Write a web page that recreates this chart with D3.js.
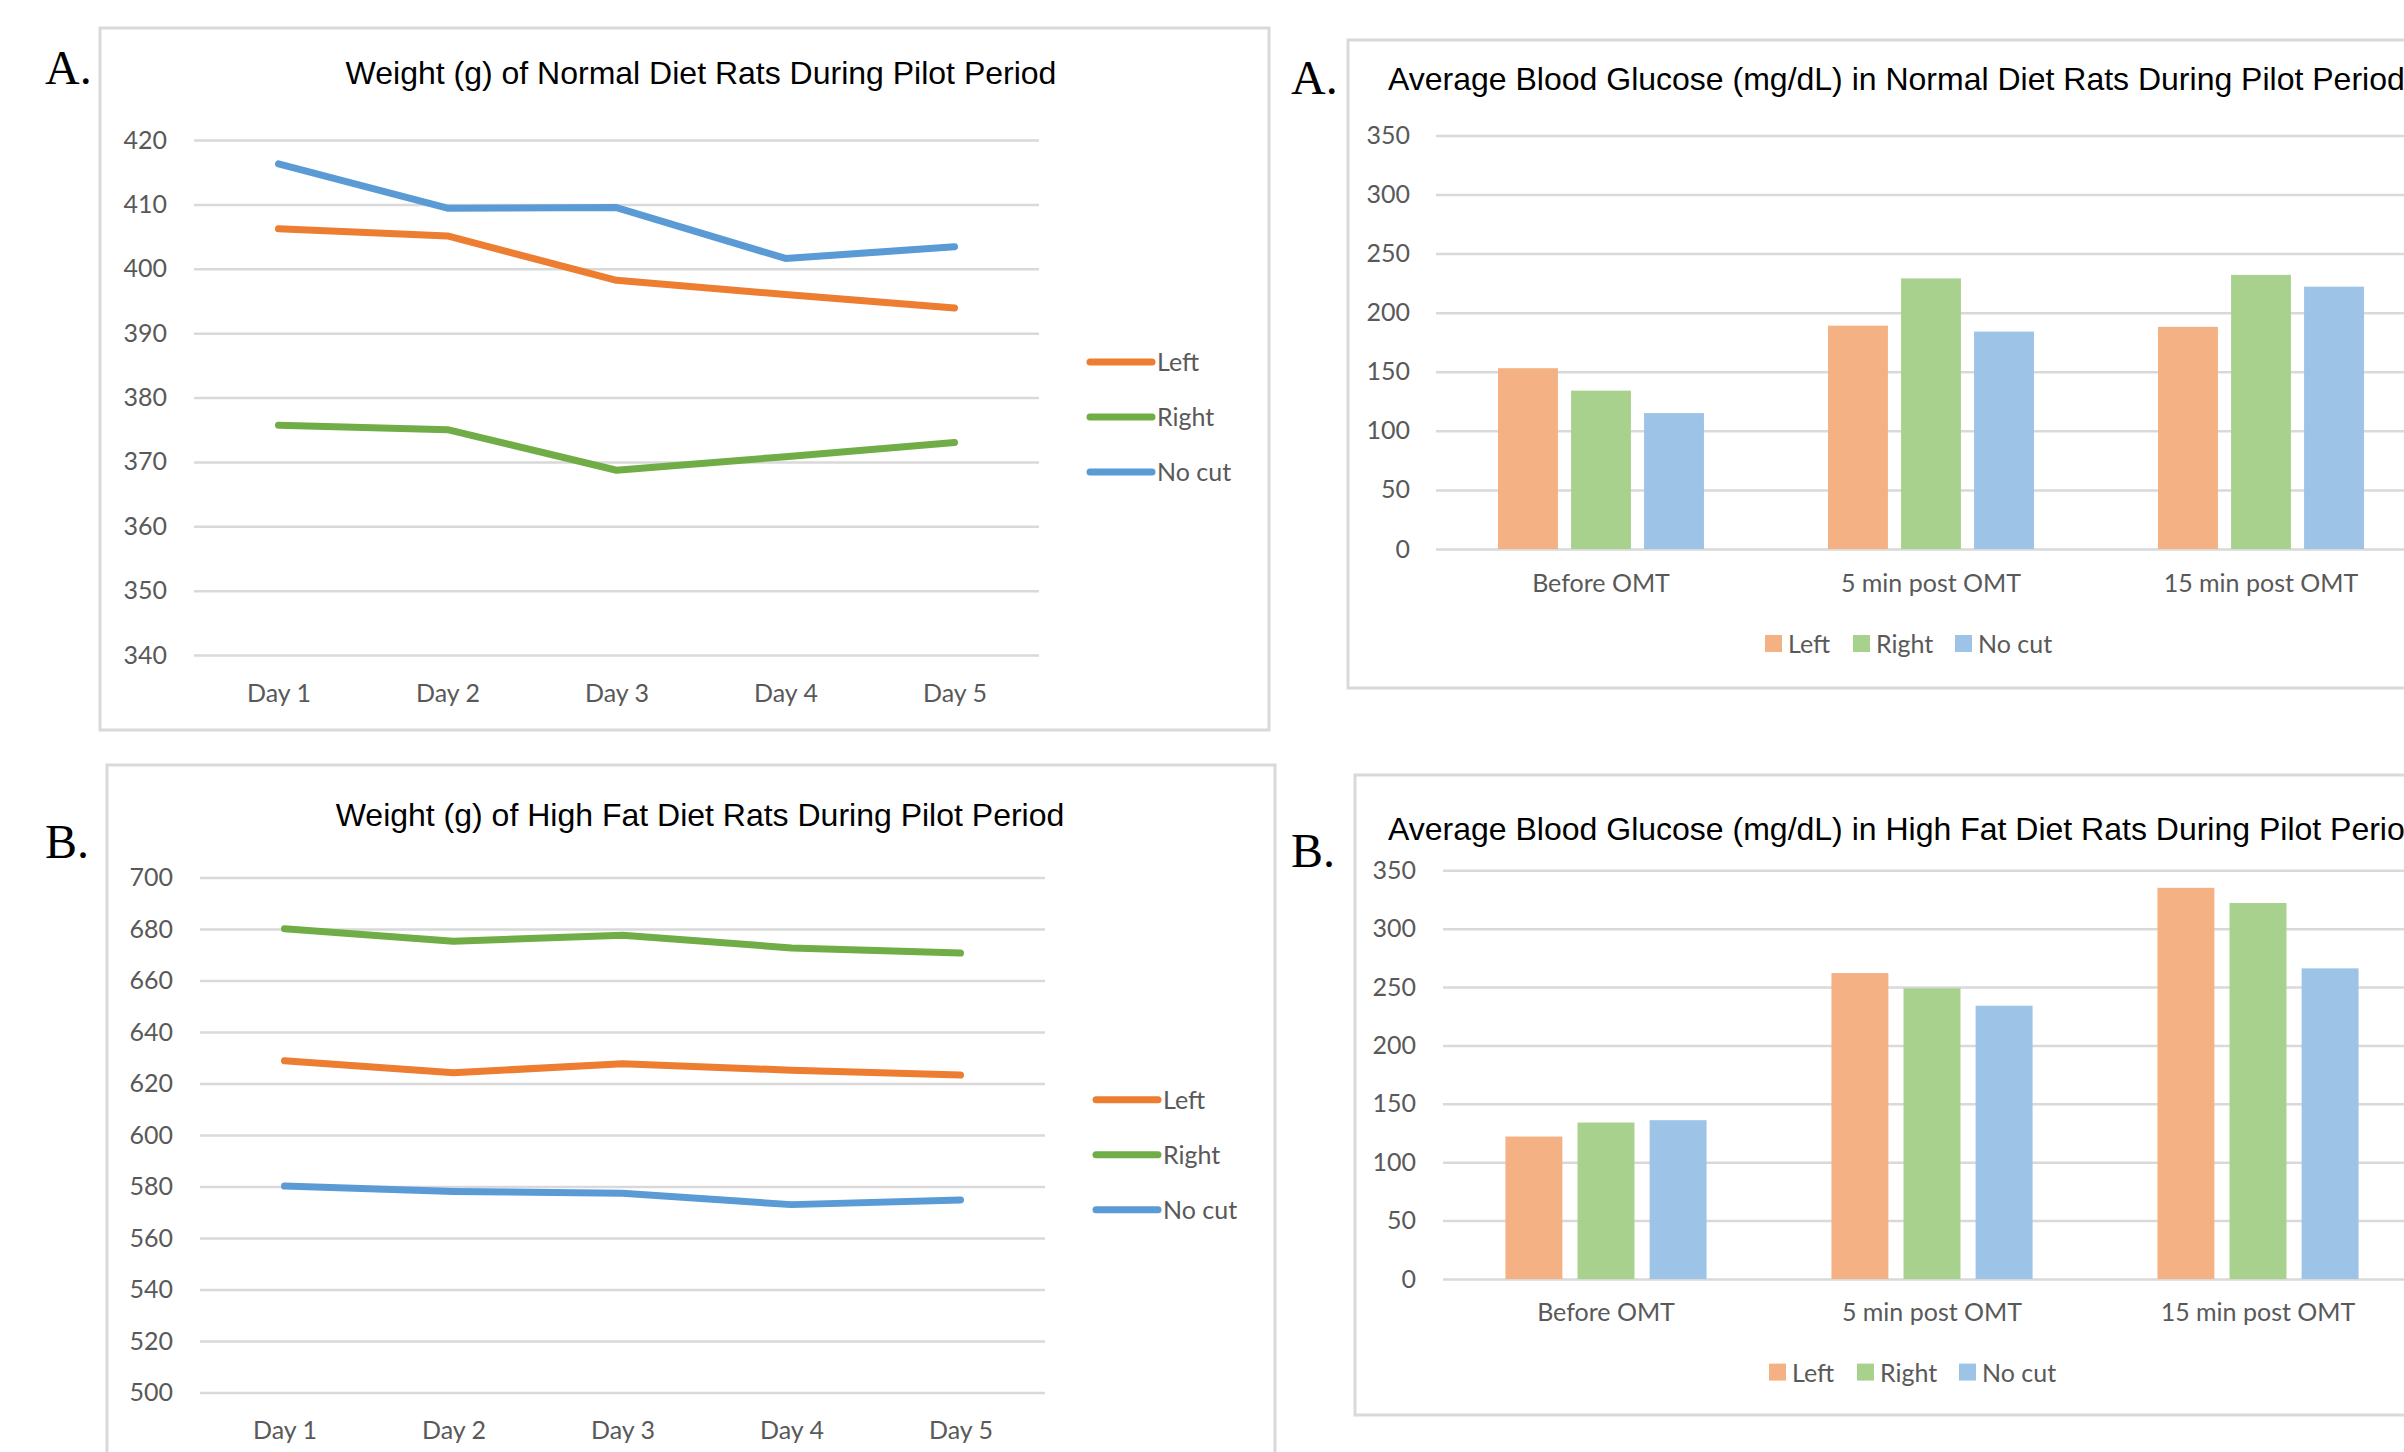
<!DOCTYPE html>
<html>
<head>
<meta charset="utf-8">
<script src="https://cdn.jsdelivr.net/npm/d3@7"></script>
<style>
  html, body { margin: 0; padding: 0; background: #ffffff; }
  svg { display: block; }
  .axis text, .legend text { font-family: Lato, "Open Sans", sans-serif; fill: #595959; }
  .title { font-family: "Liberation Sans", Arial, sans-serif; fill: #000000; }
  .panel-letter { font-family: "Liberation Serif", "Times New Roman", serif; fill: #000000; }
</style>
</head>
<body>
<script>
// ---- data ----
const days = ["Day 1", "Day 2", "Day 3", "Day 4", "Day 5"];
const seriesNames = ["Left", "Right", "No cut"];

// body weight (g), normal diet
const normalLeft  = [406.2, 405.1, 398.2, 396.0, 393.9];
const normalRight = [375.7, 375.0, 368.7, 370.8, 373.0];
const normalNoCut = [416.3, 409.4, 409.5, 401.6, 403.4];
const normalWeightTicks = [340, 350, 360, 370, 380, 390, 400, 410, 420];

// body weight (g), high fat diet
const hfLeft  = [628.9, 624.2, 627.7, 625.2, 623.3];
const hfRight = [680.1, 675.3, 677.6, 672.7, 670.7];
const hfNoCut = [580.2, 578.1, 577.4, 573.0, 574.8];
const hfWeightTicks = [500, 520, 540, 560, 580, 600, 620, 640, 660, 680, 700];

// blood glucose (mg/dL)
const timepoints = ["Before OMT", "5 min post OMT", "15 min post OMT"];
const glucoseNormalLeft  = [153, 189, 188];
const glucoseNormalRight = [134, 229, 232];
const glucoseNormalNoCut = [115, 184, 222];
const glucoseHfLeft  = [122, 262, 335];
const glucoseHfRight = [134, 249, 322];
const glucoseHfNoCut = [136, 234, 266];
const glucoseTicks = [0, 50, 100, 150, 200, 250, 300, 350];

// ---- styling ----
const lineColors = ["#ED7D31", "#70AD47", "#5B9BD5"];
const barColors  = ["#F4B183", "#A9D18E", "#9DC3E6"];
const gridColor = "#D9D9D9";
const frameColor = "#D9D9D9";
const labelSize = 25;

const W = 2404, H = 1452;
const svg = d3.select("body").append("svg").attr("width", W).attr("height", H);
svg.append("rect").attr("width", W).attr("height", H).attr("fill", "#fff");

function frame(x, y, w, h) {
  svg.append("rect").attr("x", x).attr("y", y).attr("width", w).attr("height", h)
    .attr("fill", "none").attr("stroke", frameColor).attr("stroke-width", 3);
}

function letter(txt, x, y) {
  svg.append("text").attr("class", "panel-letter").attr("x", x).attr("y", y)
    .attr("font-size", 48).text(txt);
}

function title(txt, x, y, anchor) {
  svg.append("text").attr("class", "title").attr("x", x).attr("y", y)
    .attr("text-anchor", anchor).attr("font-size", 32).text(txt);
}

function styleGrid(g) {
  g.select(".domain").remove();
  g.selectAll(".tick line").attr("stroke", gridColor).attr("stroke-width", 2.5);
  g.selectAll(".tick text").attr("font-size", labelSize);
}

// line chart panel
function lineChart(cfg) {
  const x = d3.scalePoint().domain(days).range([cfg.x0, cfg.x1]).padding(0.5);
  const y = d3.scaleLinear().domain(cfg.domain).range([cfg.yBottom, cfg.yTop]);

  const gy = svg.append("g").attr("class", "axis")
    .attr("transform", `translate(${cfg.x0},0)`)
    .call(d3.axisLeft(y).tickValues(cfg.ticks).tickFormat(d3.format("d"))
      .tickSize(-(cfg.x1 - cfg.x0)).tickPadding(27));
  styleGrid(gy);

  const gx = svg.append("g").attr("class", "axis")
    .attr("transform", `translate(0,${cfg.yBottom})`)
    .call(d3.axisBottom(x).tickSize(0).tickPadding(29));
  gx.select(".domain").remove();
  gx.selectAll(".tick text").attr("font-size", labelSize);

  const line = d3.line().x((d, i) => x(days[i])).y(d => y(d));
  cfg.series.forEach((s, k) => {
    svg.append("path").datum(s).attr("d", line)
      .attr("fill", "none").attr("stroke", lineColors[k]).attr("stroke-width", 7)
      .attr("stroke-linecap", "round").attr("stroke-linejoin", "round");
  });

  const lg = svg.append("g").attr("class", "legend");
  seriesNames.forEach((name, k) => {
    const cy = cfg.legendY + k * cfg.legendStep;
    lg.append("line").attr("x1", cfg.legendX).attr("x2", cfg.legendX + 62)
      .attr("y1", cy).attr("y2", cy)
      .attr("stroke", lineColors[k]).attr("stroke-width", 7).attr("stroke-linecap", "round");
    lg.append("text").attr("x", cfg.legendX + 67).attr("y", cy + 9)
      .attr("font-size", labelSize).text(name);
  });
}

// grouped bar chart panel
function barChart(cfg) {
  const x0 = d3.scaleBand().domain(timepoints).range([cfg.x0, cfg.x1])
    .paddingInner(cfg.groupPad).paddingOuter(cfg.groupPad / 2);
  const x1 = d3.scaleBand().domain(seriesNames).range([0, x0.bandwidth()])
    .paddingInner(cfg.barPad);
  const y = d3.scaleLinear().domain([0, 350]).range([cfg.yBottom, cfg.yTop]);

  const gy = svg.append("g").attr("class", "axis")
    .attr("transform", `translate(${cfg.x0},0)`)
    .call(d3.axisLeft(y).tickValues(glucoseTicks).tickFormat(d3.format("d"))
      .tickSize(-(cfg.x1 - cfg.x0)).tickPadding(cfg.tickPad));
  styleGrid(gy);

  const rows = timepoints.map((t, i) => ({ t, vals: cfg.series.map(s => s[i]) }));
  const groups = svg.append("g").selectAll("g").data(rows).join("g")
    .attr("transform", d => `translate(${x0(d.t)},0)`);
  groups.selectAll("rect").data(d => d.vals.map((v, k) => ({ v, k }))).join("rect")
    .attr("x", d => x1(seriesNames[d.k]))
    .attr("width", x1.bandwidth())
    .attr("y", d => y(d.v))
    .attr("height", d => y(0) - y(d.v))
    .attr("fill", d => barColors[d.k]);

  const gx = svg.append("g").attr("class", "axis")
    .attr("transform", `translate(0,${cfg.yBottom})`)
    .call(d3.axisBottom(x0).tickSize(0).tickPadding(cfg.catPad));
  gx.select(".domain").remove();
  gx.selectAll(".tick text").attr("font-size", labelSize);

  const lg = svg.append("g").attr("class", "legend");
  const lx = cfg.legendX;
  const offs = [0, 88, 190];
  seriesNames.forEach((name, k) => {
    lg.append("rect").attr("x", lx + offs[k]).attr("y", cfg.legendY - 9)
      .attr("width", 17).attr("height", 17).attr("fill", barColors[k]);
    lg.append("text").attr("x", lx + offs[k] + 23).attr("y", cfg.legendY + 9)
      .attr("font-size", labelSize).text(name);
  });
}

// ---- panel A (normal diet) ----
frame(100, 28, 1169, 702);
letter("A.", 45, 84);
title("Weight (g) of Normal Diet Rats During Pilot Period", 701, 84, "middle");
lineChart({
  x0: 194, x1: 1039, yTop: 140, yBottom: 655, domain: [340, 420],
  ticks: normalWeightTicks, series: [normalLeft, normalRight, normalNoCut],
  legendX: 1090, legendY: 362, legendStep: 55
});

frame(1348, 40, 1200, 648);
letter("A.", 1291, 94);
title("Average Blood Glucose (mg/dL) in Normal Diet Rats During Pilot Period", 1388, 90, "start");
barChart({
  x0: 1436, x1: 2426, yTop: 135.4, yBottom: 549, groupPad: 0.376, barPad: 0.18,
  tickPad: 26, catPad: 25,
  series: [glucoseNormalLeft, glucoseNormalRight, glucoseNormalNoCut],
  legendX: 1765, legendY: 644
});

// ---- panel B (high fat diet) ----
frame(107, 765, 1168, 760);
letter("B.", 45, 858);
title("Weight (g) of High Fat Diet Rats During Pilot Period", 700, 826, "middle");
lineChart({
  x0: 200, x1: 1045, yTop: 877.6, yBottom: 1392.6, domain: [500, 700],
  ticks: hfWeightTicks, series: [hfLeft, hfRight, hfNoCut],
  legendX: 1096, legendY: 1099.7, legendStep: 55
});

frame(1355, 775, 1200, 640);
letter("B.", 1291, 867);
title("Average Blood Glucose (mg/dL) in High Fat Diet Rats During Pilot Period", 1388, 840, "start");
barChart({
  x0: 1443, x1: 2421, yTop: 870.3, yBottom: 1279, groupPad: 0.383, barPad: 0.21,
  tickPad: 27, catPad: 24,
  series: [glucoseHfLeft, glucoseHfRight, glucoseHfNoCut],
  legendX: 1769, legendY: 1372.6
});
</script>
</body>
</html>
